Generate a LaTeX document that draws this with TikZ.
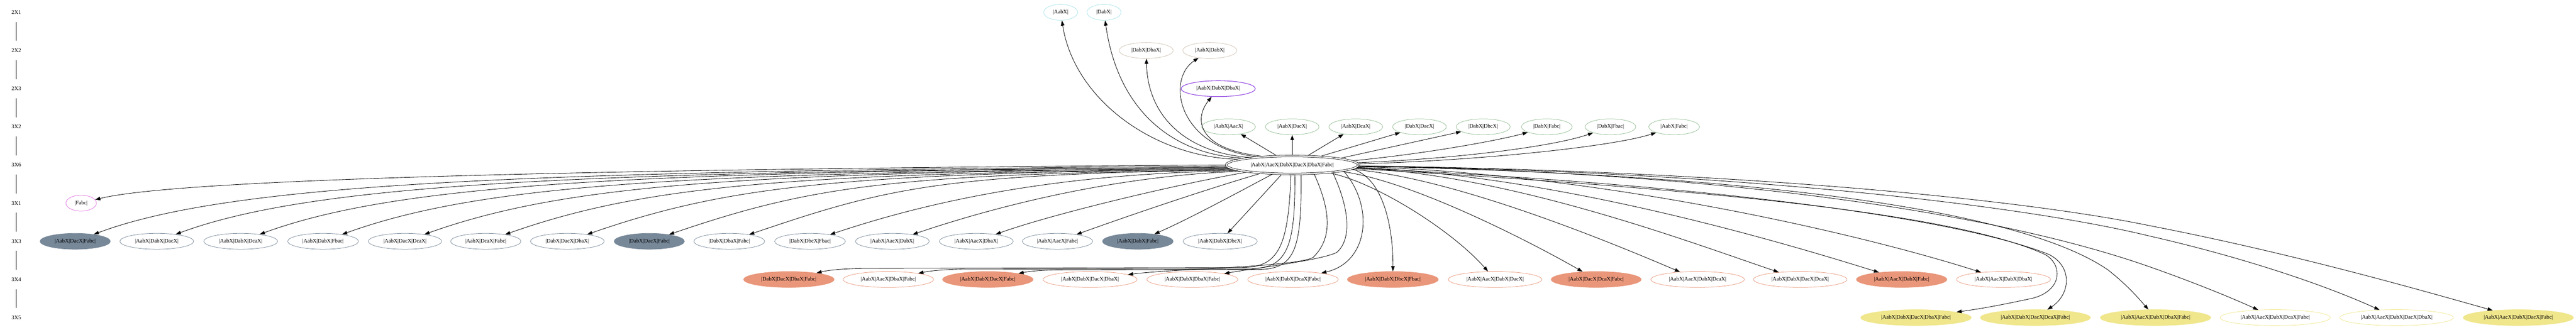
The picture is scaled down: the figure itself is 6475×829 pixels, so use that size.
\documentclass[tikz,border=0pt]{standalone}
\usepackage{fontspec}
\setmainfont{Liberation Serif}
\usetikzlibrary{arrows.meta,shapes.geometric}
\definecolor{cyanc}{HTML}{A8E2EA}
\definecolor{tanc}{HTML}{CFC1B2}
\definecolor{purpc}{HTML}{8B3BE0}
\definecolor{greenc}{HTML}{8FBC8F}
\definecolor{magc}{HTML}{E070E0}
\definecolor{slatec}{HTML}{778899}
\definecolor{salmonc}{HTML}{E9967A}
\definecolor{khakic}{HTML}{F0E68C}
\begin{document}
\begin{tikzpicture}[x=1pt,y=-1pt,
  every node/.style={font=\fontsize{13.8}{16}\selectfont},
  gn/.style={ellipse, draw=#1, line width=1pt, minimum height=40pt, inner xsep=11pt, inner ysep=2pt},
  gf/.style={gn=#1, fill=#1},
  lab/.style={inner sep=0pt, minimum height=48pt},
  ce/.style={line width=1.1pt, -{Triangle[length=13pt,width=9pt]}},
  rk/.style={line width=1.1pt}
]
\useasboundingbox (0,0) rectangle (6475,829);

% rank labels
\node[lab] (l1) at (41,31) {2X1};
\node[lab] (l2) at (41,127) {2X2};
\node[lab] (l3) at (41,223) {2X3};
\node[lab] (l4) at (41,319) {3X2};
\node[lab] (l5) at (41,415) {3X6};
\node[lab] (l6) at (41,511) {3X1};
\node[lab] (l7) at (41,607) {3X3};
\node[lab] (l8) at (41,703) {3X4};
\node[lab] (l9) at (41,799) {3X5};
\foreach \a/\b in {l1/l2,l2/l3,l3/l4,l4/l5,l5/l6,l6/l7,l7/l8,l8/l9}
  \draw[rk] (\a) -- (\b);

% rank 2X1
\node[gn=cyanc] (aabx) at (2666,31) {|AabX|};
\node[gn=cyanc] (dabx) at (2775,31) {|DabX|};
% rank 2X2
\node[gn=tanc] (dabdba) at (2881,127) {|DabX|DbaX|};
\node[gn=tanc] (aabdab) at (3041,127) {|AabX|DabX|};
% rank 2X3
\node[gn=purpc, line width=1.4pt] (adb3) at (3062,223) {|AabX|DabX|DbaX|};
% rank 3X2
\node[gn=greenc] (v1) at (3088,319) {|AabX|AacX|};
\node[gn=greenc] (v2) at (3248,319) {|AabX|DacX|};
\node[gn=greenc] (v3) at (3408,319) {|AabX|DcaX|};
\node[gn=greenc] (v4) at (3568,319) {|DabX|DacX|};
\node[gn=greenc] (v5) at (3728,319) {|DabX|DbcX|};
\node[gn=greenc] (v6) at (3888,319) {|DabX|Fabc|};
\node[gn=greenc] (v7) at (4048,319) {|DabX|Fbac|};
\node[gn=greenc] (v8) at (4208,319) {|AabX|Fabc|};
% rank 3X6
\node[ellipse, draw, line width=1pt, double, double distance=3pt, minimum width=332pt,
      minimum height=45pt, inner xsep=11pt, outer sep=2.5pt] (c) at (3248,415)
      {|AabX|AacX|DabX|DacX|DbaX|Fabc|};
% rank 3X1
\node[gn=magc] (fabc) at (204,511) {|Fabc|};
% rank 3X3
\node[gf=slatec] (t1) at (189,607) {|AabX|DacX|Fabc|};
\node[gn=slatec] (t2) at (394,607) {|AabX|DabX|DacX|};
\node[gn=slatec] (t3) at (605,607) {|AabX|DabX|DcaX|};
\node[gn=slatec] (t4) at (812,607) {|AabX|DabX|Fbac|};
\node[gn=slatec] (t5) at (1018,607) {|AabX|DacX|DcaX|};
\node[gn=slatec] (t6) at (1221,607) {|AabX|DcaX|Fabc|};
\node[gn=slatec] (t7) at (1426,607) {|DabX|DacX|DbaX|};
\node[gf=slatec] (t8) at (1632,607) {|DabX|DacX|Fabc|};
\node[gn=slatec] (t9) at (1833,607) {|DabX|DbaX|Fabc|};
\node[gn=slatec] (t10) at (2036,607) {|DabX|DbcX|Fbac|};
\node[gn=slatec] (t11) at (2243,607) {|AabX|AacX|DabX|};
\node[gn=slatec] (t12) at (2454,607) {|AabX|AacX|DbaX|};
\node[gn=slatec] (t13) at (2658,607) {|AabX|AacX|Fabc|};
\node[gf=slatec] (t14) at (2860,607) {|AabX|DabX|Fabc|};
\node[gn=slatec] (t15) at (3067,607) {|AabX|DabX|DbcX|};
% rank 3X4
\node[gf=salmonc] (u1) at (1983,703) {|DabX|DacX|DbaX|Fabc|};
\node[gn=salmonc] (u2) at (2233,703) {|AabX|AacX|DbaX|Fabc|};
\node[gf=salmonc] (u3) at (2483,703) {|AabX|DabX|DacX|Fabc|};
\node[gn=salmonc] (u4) at (2740,703) {|AabX|DabX|DacX|DbaX|};
\node[gn=salmonc] (u5) at (2997,703) {|AabX|DabX|DbaX|Fabc|};
\node[gn=salmonc] (u6) at (3250,703) {|AabX|DabX|DcaX|Fabc|};
\node[gf=salmonc] (u7) at (3501,703) {|AabX|DabX|DbcX|Fbac|};
\node[gn=salmonc] (u8) at (3758,703) {|AabX|AacX|DabX|DacX|};
\node[gf=salmonc] (u9) at (4012,703) {|AabX|DacX|DcaX|Fabc|};
\node[gn=salmonc] (u10) at (4267,703) {|AabX|AacX|DabX|DcaX|};
\node[gn=salmonc] (u11) at (4525,703) {|AabX|DabX|DacX|DcaX|};
\node[gf=salmonc] (u12) at (4780,703) {|AabX|AacX|DabX|Fabc|};
\node[gn=salmonc] (u13) at (5036,703) {|AabX|AacX|DabX|DbaX|};
% rank 3X5
\node[gf=khakic] (w1) at (4816,799) {|AabX|DabX|DacX|DbaX|Fabc|};
\node[gf=khakic] (w2) at (5116,799) {|AabX|DabX|DacX|DcaX|Fabc|};
\node[gf=khakic] (w3) at (5418,799) {|AabX|AacX|DabX|DbaX|Fabc|};
\node[gn=khakic] (w4) at (5719,799) {|AabX|AacX|DabX|DcaX|Fabc|};
\node[gn=khakic] (w5) at (6024,799) {|AabX|AacX|DabX|DacX|DbaX|};
\node[gf=khakic] (w6) at (6330,799) {|AabX|AacX|DabX|DacX|Fabc|};

% edges upward
\draw[ce] (c.174) .. controls (2900,395) and (2700,250) .. (aabx);
\draw[ce] (c.172) .. controls (2950,390) and (2810,280) .. (dabx);
\draw[ce] (c.170) .. controls (2990,385) and (2885,300) .. (dabdba);
\draw[ce] (c.167) .. controls (2960,370) and (2930,200) .. (aabdab);
\draw[ce] (c.164) .. controls (3010,375) and (3000,300) .. (adb3);
\draw[ce] (c.149) -- (v1);
\draw[ce] (c.90) -- (v2);
\draw[ce] (c.31) -- (v3);
\draw[ce] (c.17) -- (v4);
\draw[ce] (c.8) -- (v5);
\draw[ce] (c.4) .. controls (3600,385) and (3780,350) .. (v6);
\draw[ce] (c.2) .. controls (3650,400) and (3900,370) .. (v7);
\draw[ce] (c.1) .. controls (3700,405) and (4050,370) .. (v8);

% edge to 3X1
\draw[ce] (c.180) .. controls (1500,425) and (450,450) .. (fabc);

% edges to 3X3
\draw[ce] (c.181) .. controls (1380,430) and (595,455) .. (t1);
\draw[ce] (c.182) .. controls (1503,431) and (800,457) .. (t2);
\draw[ce] (c.182) .. controls (1630,432) and (1011,458) .. (t3);
\draw[ce] (c.183) .. controls (1754,433) and (1218,460) .. (t4);
\draw[ce] (c.183) .. controls (1877,434) and (1424,462) .. (t5);
\draw[ce] (c.184) .. controls (1999,435) and (1627,464) .. (t6);
\draw[ce] (c.184) .. controls (2122,436) and (1832,466) .. (t7);
\draw[ce] (c.185) .. controls (2246,437) and (2038,468) .. (t8);
\draw[ce] (c.185) .. controls (2366,438) and (2230,472) .. (t9);
\draw[ce] (c.186) .. controls (2758,435) and (2420,478) .. (t10);
\draw[ce] (c.187) .. controls (2850,440) and (2560,500) .. (t11);
\draw[ce] (c.189) .. controls (2950,465) and (2640,540) .. (t12);
\draw[ce] (c.195) .. controls (3020,480) and (2830,545) .. (t13);
\draw[ce] (c.205) .. controls (3110,485) and (2990,550) .. (t14);
\draw[ce] (c.222) -- (t15);

% edges to 3X4
\draw[ce] (c.263) .. controls (3238,620) and (3215,673) .. (3120,673) -- (2170,675)
          .. controls (2120,676) and (2085,679) .. (u1);
\draw[ce] (c.285) .. controls (3256,625) and (3235,676) .. (3140,676) -- (2420,677)
          .. controls (2370,678) and (2340,681) .. (u2);
\draw[ce] (c.312) .. controls (3272,630) and (3255,678) .. (3160,678) -- (2670,679)
          .. controls (2620,679) and (2590,682) .. (u3);
\draw[ce] (c.337) .. controls (3345,530) and (3350,600) .. (3300,648)
          .. controls (3250,672) and (2950,676) .. (u4);
\draw[ce] (c.349) .. controls (3390,520) and (3400,600) .. (3360,635)
          .. controls (3320,655) and (3150,675) .. (u5);
\draw[ce] (c.353) .. controls (3455,520) and (3440,660) .. (u6);
\draw[ce] (c.356) .. controls (3480,450) and (3502,580) .. (u7);
\draw[ce] (c) .. controls (3460,460) and (3650,580) .. (u8);
\draw[ce] (c) .. controls (3550,455) and (3850,610) .. (u9);
\draw[ce] (c) .. controls (3650,445) and (4050,610) .. (u10);
\draw[ce] (c) .. controls (3800,440) and (4250,610) .. (u11);
\draw[ce] (c) .. controls (3900,440) and (4450,600) .. (u12);
\draw[ce] (c) .. controls (4000,435) and (4650,580) .. (u13);

% edges to 3X5
\draw[ce] (c) .. controls (4200,470) and (4900,530) .. (5140,640)
          .. controls (5185,665) and (5185,730) .. (5110,750)
          .. controls (5040,765) and (4990,775) .. (w1);
\draw[ce] (c) .. controls (4400,470) and (4950,560) .. (5150,640)
          .. controls (5210,670) and (5205,740) .. (w2);
\draw[ce] (c) .. controls (4500,440) and (5100,540) .. (5300,680)
          .. controls (5350,720) and (5375,750) .. (w3);
\draw[ce] (c) .. controls (4300,432) and (5000,530) .. (5400,670)
          .. controls (5500,705) and (5600,745) .. (w4);
\draw[ce] (c) .. controls (4400,432) and (5100,520) .. (5400,593)
          .. controls (5650,650) and (5850,720) .. (w5);
\draw[ce] (c) .. controls (4400,430) and (5100,505) .. (5400,567)
          .. controls (5750,635) and (6050,720) .. (w6);
\end{tikzpicture}
\end{document}
